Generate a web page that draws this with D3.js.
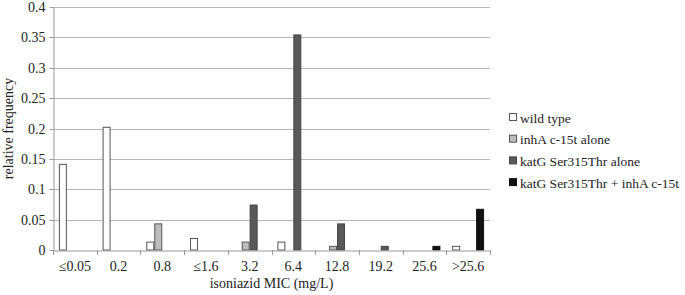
<!DOCTYPE html>
<html><head><meta charset="utf-8">
<script src="https://cdn.jsdelivr.net/npm/d3@7"></script>
<style>body{margin:0;background:#fff} svg text{font-family:'Liberation Serif', serif !important;fill:#222}</style>
</head><body><svg id="c" width="685" height="295" style="font-family:'Liberation Serif', serif"></svg>
<script>
const categories = ["\u22640.05","0.2","0.8","\u22641.6","3.2","6.4","12.8","19.2","25.6",">25.6"];
const seriesNames = ["wild type","inhA c-15t alone","katG Ser315Thr alone","katG Ser315Thr + inhA c-15t"];
const wildType = [0.141,0.202,0.013,0.019,0,0.013,0,0,0,0.006];
const inhA     = [0,0,0.043,0,0.013,0,0.006,0,0,0];
const katG     = [0,0,0,0,0.074,0.354,0.043,0.006,0,0];
const combo    = [0,0,0,0,0,0,0,0,0.006,0.067];
const yTicks = [0,0.05,0.1,0.15,0.2,0.25,0.3,0.35,0.4];
const seriesValues = [wildType,inhA,katG,combo];
const fills = ["#ffffff","#bdbdbd","#595959","#111111"];
const strokes = ["#555","#555","#444","#111"];
const FONT = "'Liberation Serif', serif";

const svg = d3.select("#c");
const L=53,R=490,T=7,B=250;
const x = d3.scaleBand().domain(categories).range([L,R]).paddingInner(0).paddingOuter(0);
const bw = x.bandwidth();
const off = bw*0.135;
const xs = d3.scaleBand().domain(d3.range(4)).range([off, bw-off]).padding(0);
const y = d3.scaleLinear().domain([0,0.4]).range([B,T]);

// gridlines
svg.append("g").selectAll("line").data(yTicks.filter(d=>d>0)).join("line")
  .attr("x1",L).attr("x2",R).attr("y1",d=>Math.round(y(d))+0.5).attr("y2",d=>Math.round(y(d))+0.5)
  .attr("stroke","#b5b5b5").attr("stroke-width",1);

// y axis
const ya = svg.append("g").attr("transform",`translate(${L+0.5},0)`)
  .call(d3.axisLeft(y).tickValues(yTicks).tickFormat(d=>String(+d.toFixed(2))).tickSize(4).tickPadding(4).tickSizeOuter(0));
ya.attr("font-family",FONT);
ya.select(".domain").attr("stroke","#999");
ya.selectAll(".tick line").attr("stroke","#999");
ya.selectAll(".tick text").attr("font-size","14px").style("font-family",FONT).attr("fill","#222");
ya.selectAll(".tick").attr("transform",d=>`translate(0,${Math.round(y(d))+0.5})`);

// bars
const groups = svg.append("g").selectAll("g").data(categories).join("g")
  .attr("transform",d=>`translate(${x(d)},0)`);
groups.selectAll("rect").data((d,i)=>seriesValues.map((s,k)=>({k,v:s[i]}))).join("rect")
  .filter(d=>d.v>0)
  .attr("x",d=>xs(d.k)+0.5).attr("width",xs.bandwidth()-1)
  .attr("y",d=>y(d.v)).attr("height",d=>B-y(d.v))
  .attr("fill",d=>fills[d.k]).attr("stroke",d=>strokes[d.k]).attr("stroke-width",1);

// x axis
const xa = svg.append("g").attr("transform",`translate(0,${B+0.5})`)
  .call(d3.axisBottom(x).tickSize(0).tickPadding(11));
xa.attr("font-family",FONT);
xa.select(".domain").attr("stroke","#999");
xa.selectAll(".tick text").attr("font-size","14px").style("font-family",FONT).attr("fill","#222");
svg.append("g").selectAll("line").data(categories.concat([null])).join("line")
  .attr("x1",(d,i)=>Math.round(L+i*bw)+0.5).attr("x2",(d,i)=>Math.round(L+i*bw)+0.5)
  .attr("y1",B).attr("y2",B+5).attr("stroke","#999");

// titles
svg.append("text").attr("x",(L+R)/2).attr("y",288).attr("text-anchor","middle")
  .attr("font-size","14px").style("font-family",FONT).text("isoniazid MIC (mg/L)");
svg.append("text").attr("transform",`translate(13,${(T+B)/2}) rotate(-90)`).attr("text-anchor","middle")
  .attr("font-size","14px").style("font-family",FONT).text("relative frequency");

// legend
const lg = svg.append("g").selectAll("g").data(seriesNames).join("g")
  .attr("transform",(d,i)=>`translate(509,${118+i*21.7})`);
lg.append("rect").attr("x",0.5).attr("y",-4.5).attr("width",7).attr("height",7)
  .attr("fill",(d,i)=>fills[i]).attr("stroke",(d,i)=>strokes[i]);
lg.append("text").attr("x",11).attr("y",4.5).attr("font-size","13.5px").style("font-family",FONT).text(d=>d);
</script></body></html>
